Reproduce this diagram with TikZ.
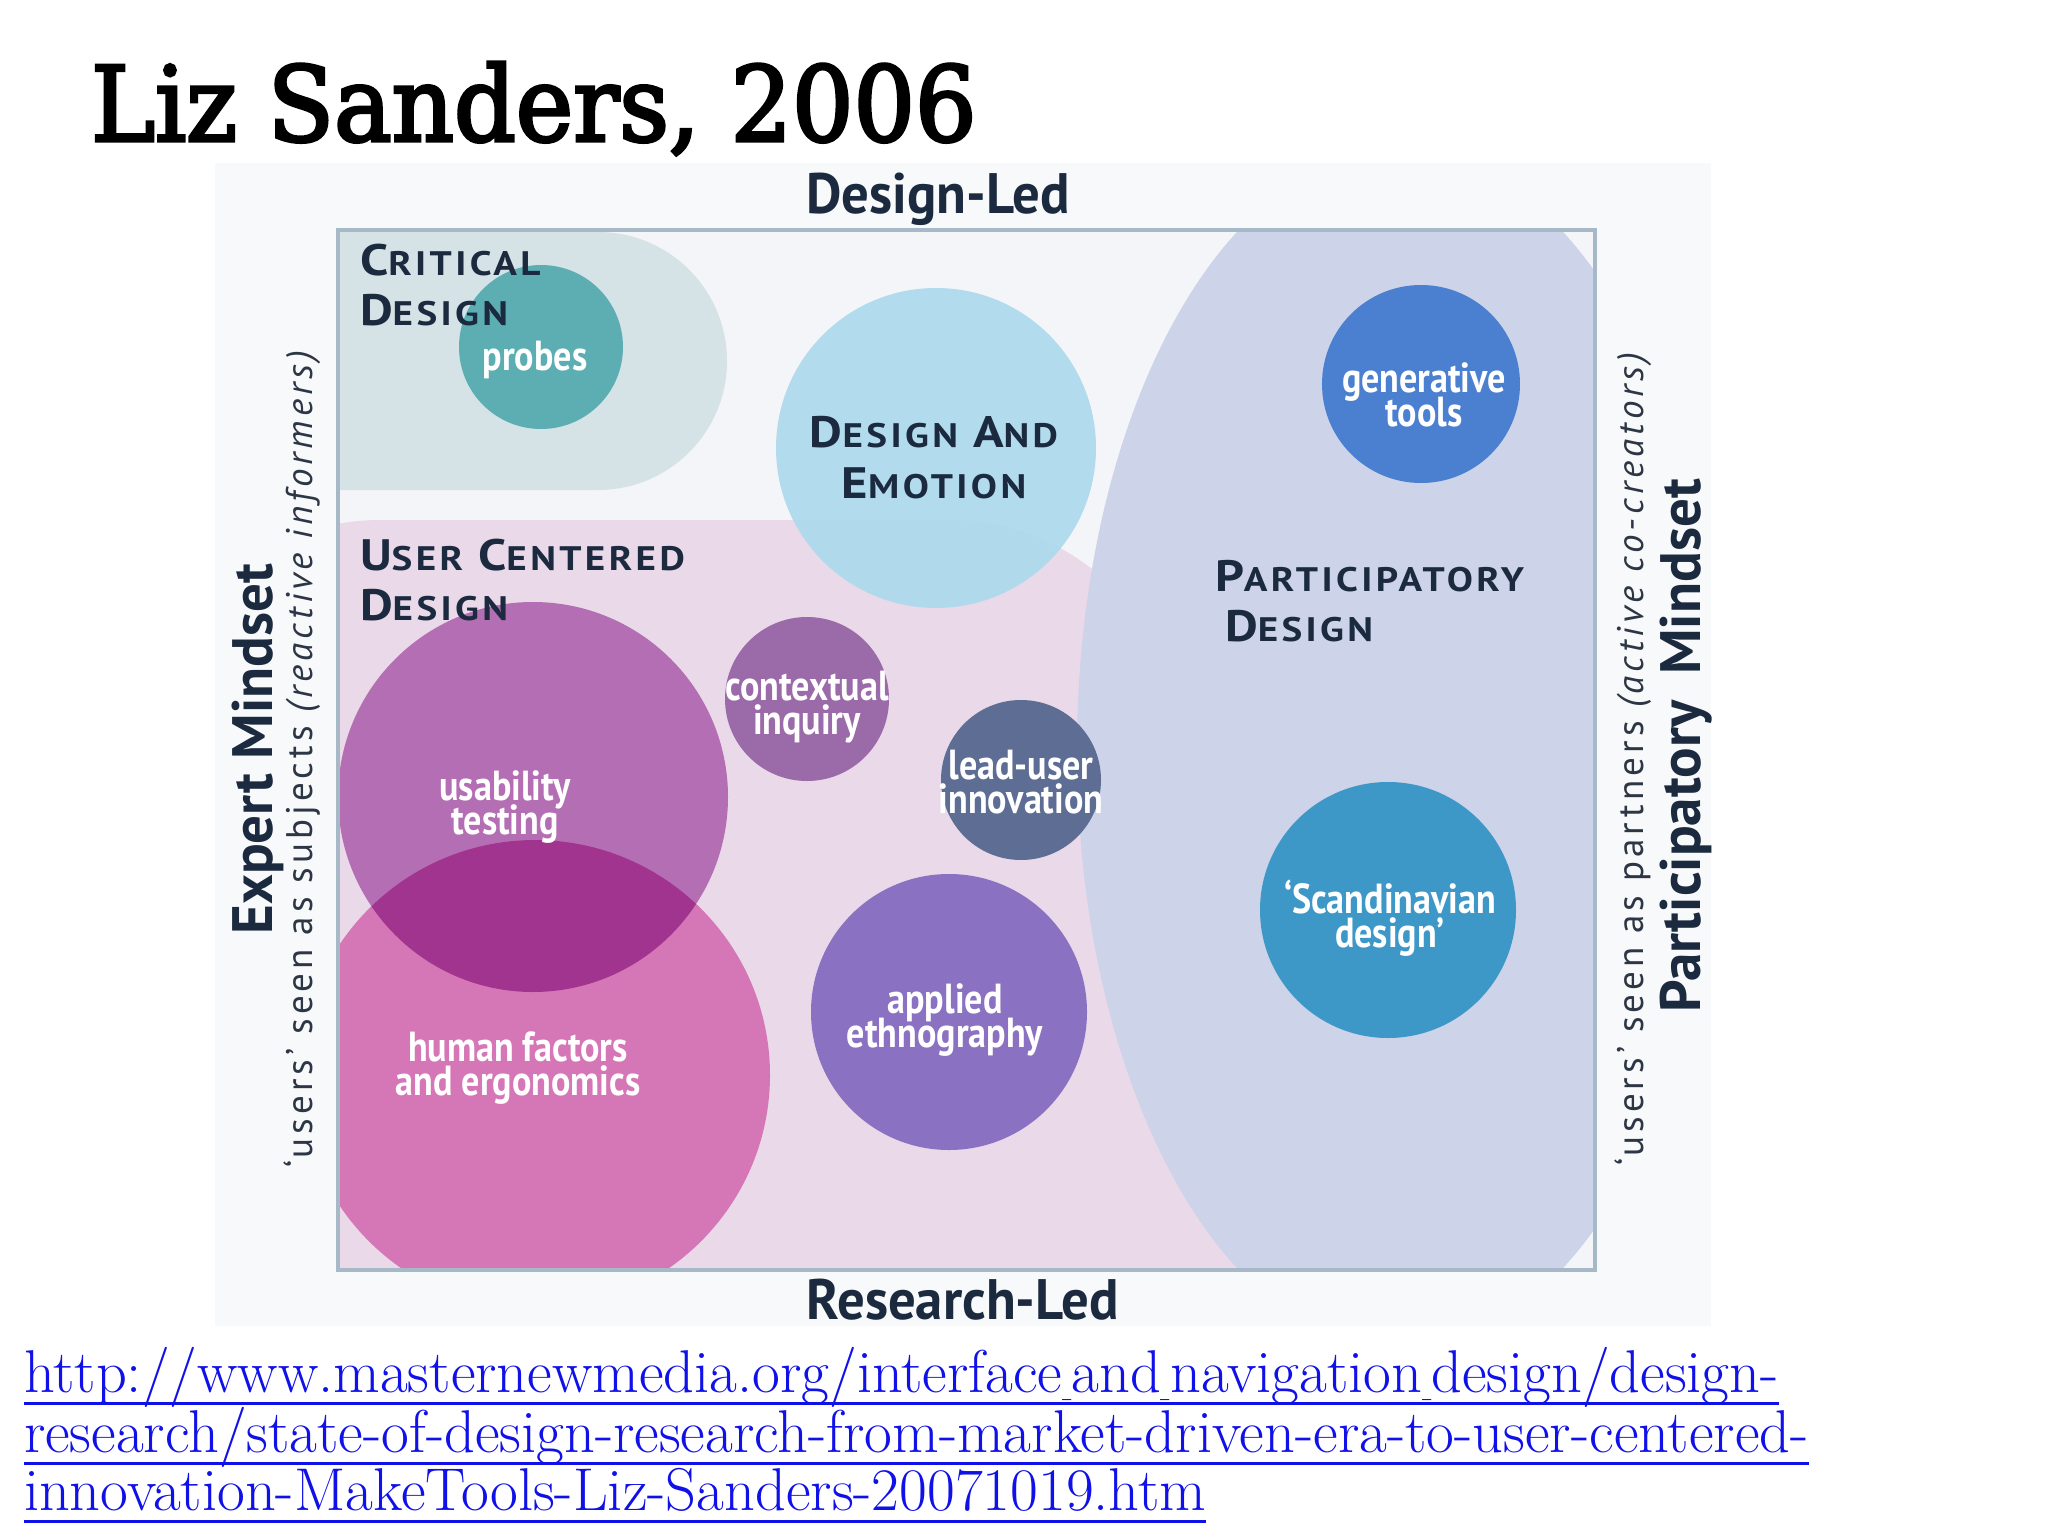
\documentclass[tikz,border=0pt]{standalone}
\usepackage{fontspec}
\usetikzlibrary{calc}
\newfontfamily\titlefont[FakeBold=3,FakeStretch=0.93]{DejaVu Serif}
\newfontfamily\lab{PT Sans}
\newfontfamily\hfont[FakeStretch=1.15,LetterSpace=10]{PT Sans}
\newfontfamily\cond[FakeStretch=0.86]{PT Sans}
\newfontfamily\axf[FakeStretch=0.96]{PT Sans}
\newfontfamily\vaxf[FakeStretch=1.0]{PT Sans}
\newfontfamily\subf[LetterSpace=11]{PT Sans}
\definecolor{panel}{HTML}{F8F9FA}
\definecolor{inner}{HTML}{F4F5F8}
\definecolor{critical}{HTML}{D5E3E6}
\definecolor{pinkreg}{HTML}{EAD9E8}
\definecolor{partreg}{HTML}{CDD3E8}
\definecolor{deemo}{HTML}{A9D9EC}
\definecolor{probesc}{HTML}{5DAEB2}
\definecolor{genc}{HTML}{4B7FD0}
\definecolor{scandc}{HTML}{3E98C7}
\definecolor{usabc}{HTML}{B46EB3}
\definecolor{hfc}{HTML}{D577B6}
\definecolor{lensc}{HTML}{A0348F}
\definecolor{ctxc}{HTML}{9B6BA9}
\definecolor{leadc}{HTML}{5E6D94}
\definecolor{applc}{HTML}{8B71C2}
\definecolor{framec}{HTML}{A7B9C6}
\definecolor{navy}{HTML}{1B2A3F}
\definecolor{axisgray}{HTML}{2C3645}
\definecolor{urlc}{HTML}{1010E8}
\newcommand\SCW[2]{{\fontsize{44}{44}\selectfont #1}{\fontsize{34}{34}\selectfont #2}}
\newcommand\us{\scalebox{0.22}[1]{\_}}
\begin{document}
\lineskiplimit=-100pt
\lineskip=0pt
\begin{tikzpicture}[x=1pt,y=-1pt,
  every node/.style={inner sep=0pt,outer sep=0pt},
  heading/.style={font=\hfont\bfseries\fontsize{34}{50}\selectfont, text=navy, anchor=base west, align=left},
  headc/.style={font=\hfont\bfseries\fontsize{34}{51}\selectfont, text=navy, anchor=base, align=center},
  inlab/.style={font=\cond\bfseries\fontsize{42}{34}\selectfont, text=white, anchor=base, align=center},
  axis/.style={font=\axf\bfseries\fontsize{57}{57}\selectfont, text=navy, anchor=base},
  vaxis/.style={font=\vaxf\bfseries\fontsize{57}{57}\selectfont, text=navy, anchor=base},
  subax/.style={font=\subf\fontsize{37}{37}\selectfont, text=axisgray, anchor=base},
  urlline/.style={font=\fontsize{60.4}{60}\selectfont, text=urlc, anchor=base west},
  uline/.style={draw=urlc, line width=3pt}]
\fill[white] (0,0) rectangle (2048,1536);
\useasboundingbox (0,0) rectangle (2048,1536);
% faint panel
\fill[panel] (215,163) rectangle (1711,1326);
% inner of frame
\fill[inner] (338,230) rectangle (1595,1270);
\begin{scope}
  \clip (338,230) rectangle (1595,1270);
  % regions
  \fill[critical, rounded corners=129pt] (150,232) rectangle (727,490);
  \fill[pinkreg, rounded corners=230pt] (150,520) rectangle (1180,1500);
  \fill[pinkreg] (900,900) rectangle (1300,1500);
  \fill[partreg] (1400,750) ellipse [x radius=323pt, y radius=600pt];
  \fill[deemo, opacity=0.88] (936,448) circle (160pt);
  % circles
  \fill[probesc] (541,347) circle (82pt);
  \fill[genc] (1421,384) circle (99pt);
  \fill[scandc] (1388,910) circle (128pt);
  \fill[usabc] (533,797) circle (195pt);
  \fill[hfc] (535,1075) circle (235pt);
  \begin{scope}
    \clip (533,797) circle (195pt);
    \fill[lensc] (535,1075) circle (235pt);
  \end{scope}
  \fill[ctxc] (807,699) circle (82pt);
  \fill[leadc] (1021,780) circle (80pt);
  \fill[applc] (949,1012) circle (138pt);
\end{scope}
\draw[framec, line width=4pt] (338,230) rectangle (1595,1270);

% title
\node[font=\titlefont\fontsize{104}{104}\selectfont, anchor=base west] (title) at (91,141) {Liz Sanders, 2006};

% axis labels
\node[axis] (designled) at (938,213) {Design-Led};
\node[axis] (researchled) at (963,1319) {Research-Led};
\node[vaxis, rotate=90] (expert) at (272,749) {Expert Mindset};
\node[subax, rotate=90] (subjects) at (312,757) {‘users’ seen as subjects \textit{(reactive informers)}};
\node[subax, rotate=90] (partners) at (1643,757) {‘users’ seen as partners \textit{(active co-creators)}};
\node[vaxis, rotate=90] (partmind) at (1700,746) {Participatory\hspace{0.45em}Mindset};

% headings (anchor = baseline of last line)
\node[heading] (crit) at (360,325) {\SCW{C}{RITICAL}\\\SCW{D}{ESIGN}};
\node[heading] (ucd) at (360,620) {\SCW{U}{SER}\hspace{15pt}\SCW{C}{ENTERED}\\\SCW{D}{ESIGN}};
\node[headc] (de) at (934,498) {\SCW{D}{ESIGN}\hspace{15pt}\SCW{A}{ND}\\\SCW{E}{MOTION}};
\node[heading] (pd) at (1215,641) {\SCW{P}{ARTICIPATORY}\\\hspace{10pt}\SCW{D}{ESIGN}};

% circle labels (anchor = baseline of last line)
\node[inlab] (probesL) at (535,370) {probes};
\node[inlab] (genL) at (1424,426) {generative\\tools};
\node[inlab] (scL) at (1390,947) {‘Scandinavian\\design’};
\node[inlab] (usL) at (505,834) {usability\\testing};
\node[inlab] (ctxL) at (807,734) {contextual\\inquiry};
\node[inlab] (leadL) at (1021,813) {lead-user\\innovation};
\node[inlab] (apL) at (945,1047) {applied\\ethnography};
\node[inlab] (hfL) at (518,1095) {human factors\\and ergonomics};

% URL
\node[urlline] (u1) at (24,1392) {http://www.masternewmedia.org/interface\us and\us navigation\us design/design-};
\node[urlline] (u2) at (24,1452) {research/state-of-design-research-from-market-driven-era-to-user-centered-};
\node[urlline] (u3) at (24,1510) {innovation-MakeTools-Liz-Sanders-20071019.htm};
\draw[uline] ($(u1.base west)+(0,11)$) -- ($(u1.base east)+(0,11)$);
\draw[uline] ($(u2.base west)+(0,11)$) -- ($(u2.base east)+(0,11)$);
\draw[uline] ($(u3.base west)+(0,11)$) -- ($(u3.base east)+(0,11)$);
\end{tikzpicture}
\end{document}
